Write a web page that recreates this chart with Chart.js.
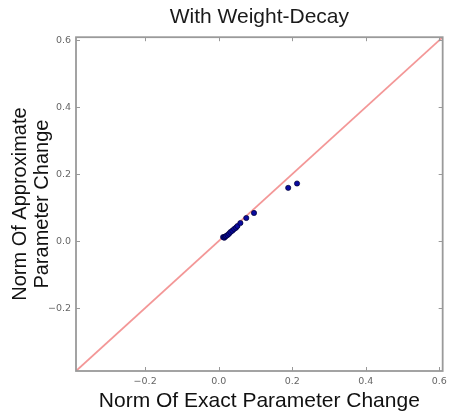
<!DOCTYPE html>
<html>
<head>
<meta charset="utf-8">
<script src="https://cdn.jsdelivr.net/npm/chart.js@4.4.0/dist/chart.umd.min.js"></script>
<style>
  html, body { margin: 0; padding: 0; background: #fff; }
</style>
</head>
<body>
<canvas id="chart" width="452" height="413"></canvas>
<script>
// Exact vs approximate parameter change
const exactChange  = [0.012, 0.015, 0.017, 0.020, 0.024, 0.028, 0.032, 0.037, 0.042, 0.047, 0.051, 0.059, 0.075, 0.096, 0.189, 0.213];
const approxChange = [0.012, 0.010, 0.013, 0.015, 0.018, 0.022, 0.027, 0.031, 0.036, 0.040, 0.045, 0.054, 0.069, 0.084, 0.159, 0.172];

// y = x reference line
const refX = [-0.388, 0.609];
const refY = [-0.388, 0.609];

const axisMin = -0.388;
const axisMax = 0.609;
const tickValues = [-0.2, 0.0, 0.2, 0.4, 0.6];

const sans = '"Liberation Sans", Arial, sans-serif';
const tickFont = { family: '"DejaVu Sans", sans-serif', size: 9.5 };

function fmtTick(v) {
    return v.toFixed(1).replace('-', '\u2212');
}

// matplotlib-like frame with inward ticks on all four sides
const framePlugin = {
    id: 'frame',
    afterDatasetsDraw(chart) {
        const { ctx, chartArea: a, scales } = chart;
        ctx.save();
        ctx.strokeStyle = '#9a9a9a';
        ctx.lineWidth = 1.8;
        ctx.strokeRect(a.left, a.top, a.right - a.left, a.bottom - a.top);
        ctx.lineWidth = 1;
        ctx.strokeStyle = '#999';
        ctx.beginPath();
        scales.x.ticks.forEach(t => {
            const px = Math.round(scales.x.getPixelForValue(t.value)) + 0.5;
            ctx.moveTo(px, a.bottom); ctx.lineTo(px, a.bottom - 4);
            ctx.moveTo(px, a.top); ctx.lineTo(px, a.top + 4);
        });
        scales.y.ticks.forEach(t => {
            const py = Math.round(scales.y.getPixelForValue(t.value)) + 0.5;
            ctx.moveTo(a.left, py); ctx.lineTo(a.left + 4, py);
            ctx.moveTo(a.right, py); ctx.lineTo(a.right - 4, py);
        });
        ctx.stroke();
        ctx.restore();
    }
};

const ctx = document.getElementById('chart').getContext('2d');
new Chart(ctx, {
    type: 'scatter',
    data: {
        datasets: [{
            label: 'changes',
            data: exactChange.map((x, i) => ({ x: x, y: approxChange[i] })),
            backgroundColor: '#0a0aa0',
            borderColor: '#000030',
            borderWidth: 0.7,
            pointRadius: 2.6,
            order: 1
        }, {
            label: 'y = x',
            data: refX.map((x, i) => ({ x: x, y: refY[i] })),
            showLine: true,
            borderColor: 'rgba(240, 125, 125, 0.8)',
            borderWidth: 1.8,
            pointRadius: 0,
            order: 2
        }]
    },
    options: {
        responsive: false,
        animation: false,
        layout: { padding: { left: 0, right: 3, top: 0, bottom: 0 } },
        plugins: {
            legend: { display: false },
            tooltip: { enabled: false },
            title: {
                display: true,
                text: 'With Weight-Decay',
                fullSize: false,
                color: '#1a1a1a',
                font: { family: sans, size: 21, weight: 'normal', lineHeight: 1.2 },
                padding: { top: 5, bottom: 7 }
            }
        },
        scales: {
            x: {
                type: 'linear',
                min: axisMin,
                max: axisMax,
                afterBuildTicks: s => { s.ticks = tickValues.map(v => ({ value: v })); },
                afterFit: s => { s.height = 42; },
                grid: { display: false, drawTicks: false },
                border: { display: false },
                ticks: { font: tickFont, color: '#666', padding: 5, callback: v => fmtTick(v) },
                title: {
                    display: true,
                    text: 'Norm Of Exact Parameter Change',
                    color: '#111',
                    font: { family: sans, size: 21, lineHeight: 1.1 },
                    padding: { top: 2, bottom: 0 }
                }
            },
            y: {
                type: 'linear',
                min: axisMin,
                max: axisMax,
                afterBuildTicks: s => { s.ticks = tickValues.map(v => ({ value: v })); },
                afterFit: s => { s.width = 76; },
                grid: { display: false, drawTicks: false },
                border: { display: false },
                ticks: { font: tickFont, color: '#666', padding: 5, callback: v => fmtTick(v) },
                title: {
                    display: true,
                    text: ['Norm Of Approximate', 'Parameter Change'],
                    color: '#111',
                    font: { family: sans, size: 20, lineHeight: 1.1 },
                    padding: { top: 9, bottom: 0 }
                }
            }
        }
    },
    plugins: [framePlugin]
});
</script>
</body>
</html>
